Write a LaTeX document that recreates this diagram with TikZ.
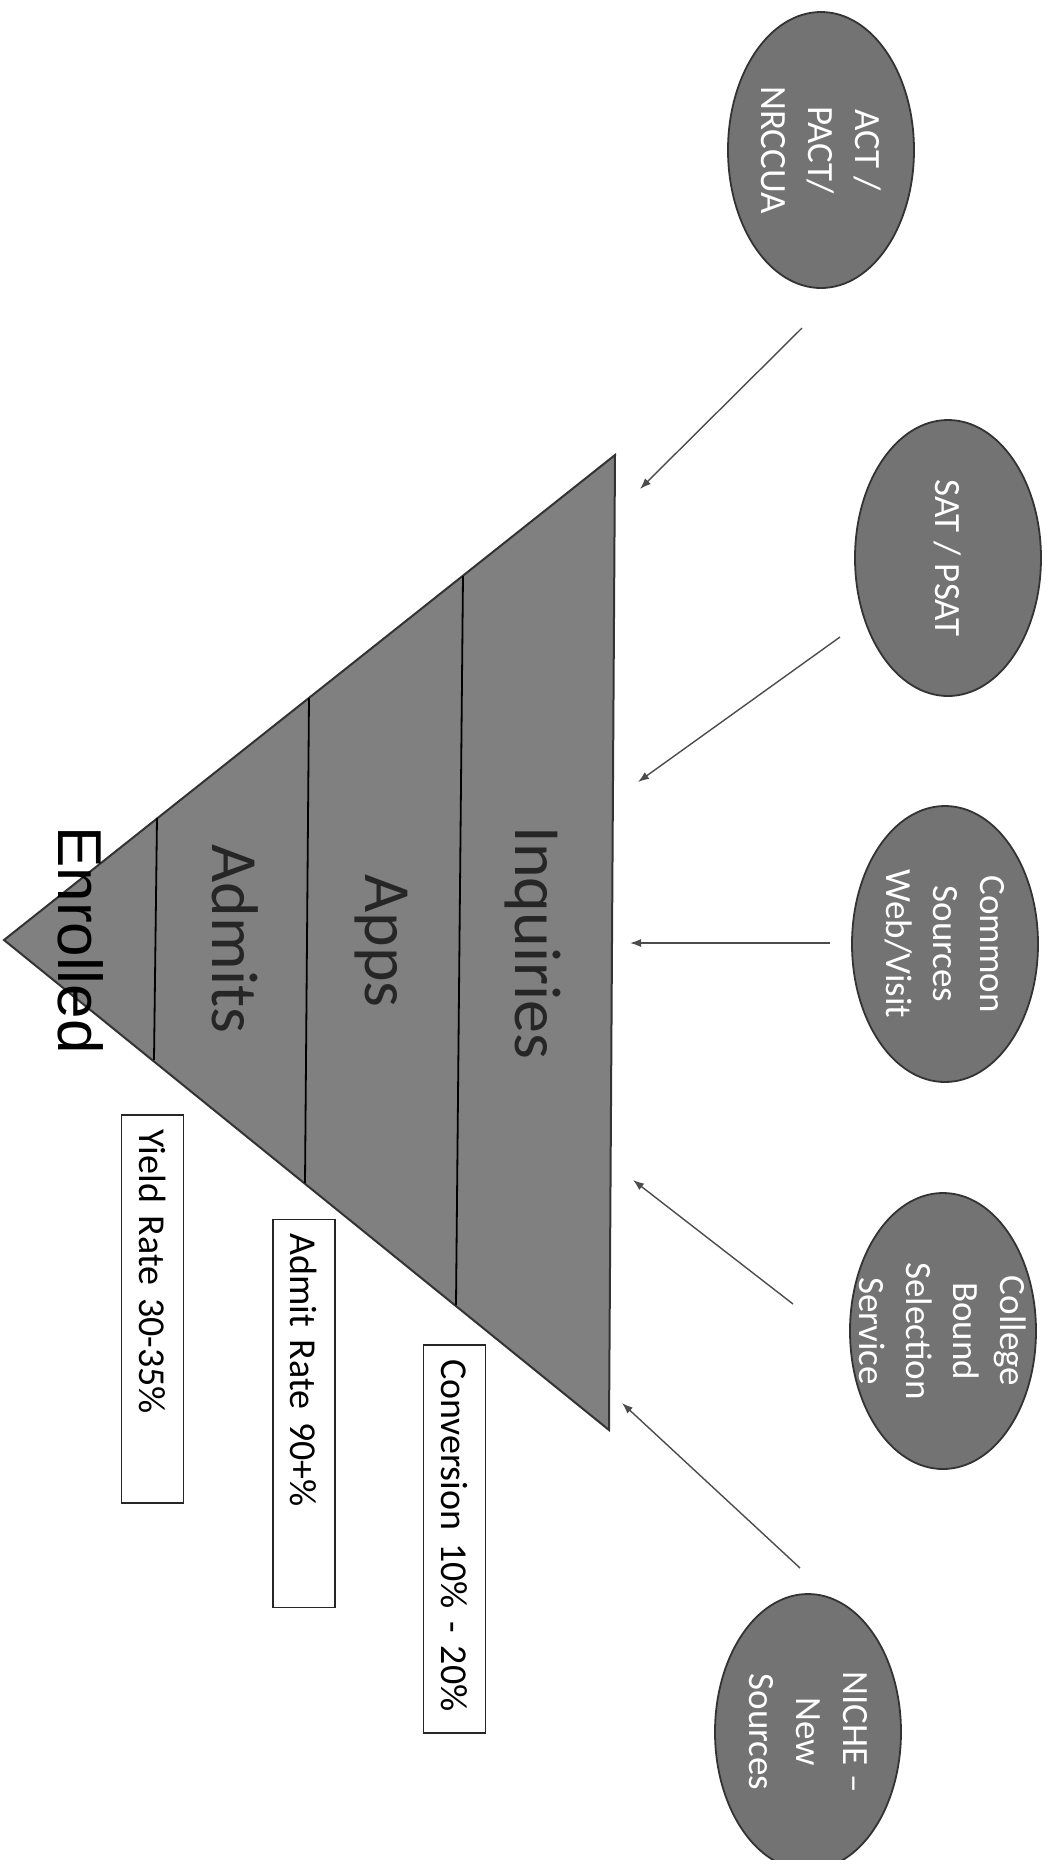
\documentclass[tikz,border=0pt]{standalone}
\usepackage{fontspec}
\setmainfont{Carlito}
\newfontfamily\enrfont{Liberation Sans}
\usetikzlibrary{shapes.geometric,arrows.meta}

\begin{document}
\begin{tikzpicture}[x=0.5pt,y=-0.5pt,
		>={Latex[length=5.5pt,width=4pt]},
		src/.style={ellipse,draw=black!80,line width=0.9pt,fill=black!55,minimum width=93pt,minimum height=138pt,inner sep=0pt},
		srctxt/.style={rotate=-90,align=center,text=white,font=\fontsize{18.5}{23.5}\selectfont},
		stage/.style={rotate=-90,anchor=base,text=black!85,font=\fontsize{33}{40}\selectfont,inner sep=0pt},
		rate/.style={rotate=-90,draw=black!85,line width=0.9pt,fill=white,text width=180pt,align=left,inner xsep=7pt,inner ysep=0pt,minimum height=31pt,font=\fontsize{19}{23}\selectfont},
		feed/.style={->,draw=black!70,line width=0.7pt}]
		\useasboundingbox (0,0) rectangle (1046,1860);
		\coordinate (apex) at (4,940);
		\coordinate (top) at (615,455);
		\coordinate (bot) at (609,1430);
		\draw[draw=black!80,line width=1pt,fill=black!50] (apex) -- (top) -- (bot) -- cycle;
		\draw[line width=0.9pt] (463,576) -- (456,1305);
		\draw[line width=0.9pt] (309,698) -- (305,1183);
		\draw[line width=0.9pt] (157,818) -- (154,1060);
		\node[stage] (inq) at (515,943) {Inquiries};
		\node[stage] (apps) at (365,941) {Apps};
		\node[stage] (adm) at (212,939) {Admits};
		\node[stage,text=black,font=\enrfont\fontsize{31}{36}\selectfont] (enr) at (58,940) {Enrolled};
		\node[src] (act) at (821,150) {};
		\node[srctxt] at (act) {ACT /\\PACT/\\NRCCUA};
		\node[src] (sat) at (948,558) {};
		\node[srctxt] at (sat) {SAT / PSAT};
		\node[src] (common) at (945,944) {};
		\node[srctxt] at (common) {Common\\Sources\\Web/Visit};
		\node[src] (cbss) at (943,1331) {};
		\node[srctxt] at (cbss) {College\\Bound\\Selection\\Service};
		\node[src] (niche) at (808,1732) {};
		\node[srctxt] at (niche) {NICHE –\\New\\Sources};
		\coordinate (act-s) at (802,328);
		\coordinate (act-e) at (640,489);
		\coordinate (sat-s) at (840,637);
		\coordinate (sat-e) at (638,782);
		\coordinate (common-s) at (830,943);
		\coordinate (common-e) at (630,943);
		\coordinate (cbss-s) at (793,1304);
		\coordinate (cbss-e) at (633,1180);
		\coordinate (niche-s) at (800,1568);
		\coordinate (niche-e) at (622,1403);
		\draw[feed] (act-s) to (act-e);
		\draw[feed] (sat-s) to (sat-e);
		\draw[feed] (common-s) to (common-e);
		\draw[feed] (cbss-s) to (cbss-e);
		\draw[feed] (niche-s) to (niche-e);
		\node[rate] (yield) at (152.5,1309) {Yield Rate 30-35\%};
		\node[rate] (admit) at (304,1413.5) {Admit Rate 90+\%};
		\node[rate] (conv) at (454.5,1539) {Conversion 10\% - 20\%};
	\end{tikzpicture}
\end{document}
